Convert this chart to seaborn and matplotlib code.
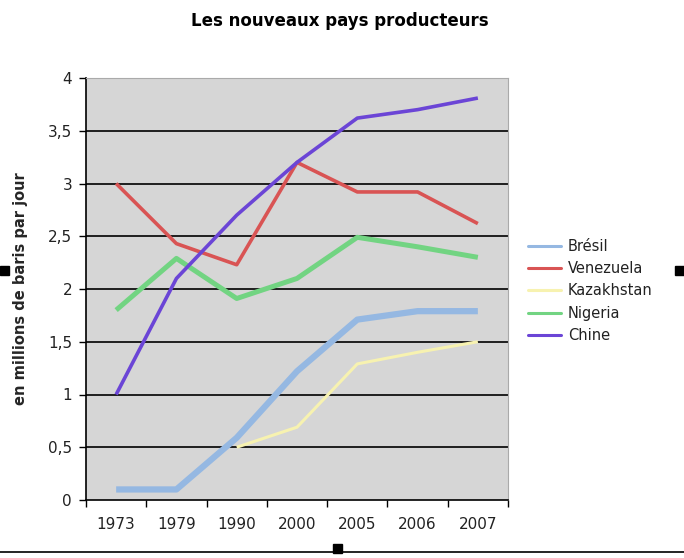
import matplotlib
matplotlib.use("Agg")
import matplotlib.pyplot as plt
import seaborn as sns
import numpy as np
import pandas as pd
from matplotlib.lines import Line2D
from matplotlib.patches import Rectangle

years = ["1973", "1979", "1990", "2000", "2005", "2006", "2007"]
bresil = [0.1, 0.1, 0.59, 1.22, 1.71, 1.79, 1.79]
venezuela = [3.0, 2.43, 2.23, 3.2, 2.92, 2.92, 2.62]
kazakhstan = [np.nan, np.nan, 0.5, 0.69, 1.29, 1.4, 1.5]
nigeria = [1.8, 2.29, 1.91, 2.1, 2.49, 2.4, 2.3]
chine = [1.0, 2.1, 2.7, 3.2, 3.62, 3.7, 3.81]

series_names = ["Brésil", "Venezuela", "Kazakhstan", "Nigeria", "Chine"]
series_values = [bresil, venezuela, kazakhstan, nigeria, chine]
colors = ["#95b8e2", "#d95454", "#f7f2b0", "#72d482", "#6b45d6"]
widths = [4.5, 2.6, 2.2, 3.6, 2.6]

yticks = [0, 0.5, 1, 1.5, 2, 2.5, 3, 3.5, 4]
ytick_labels = ["0", "0,5", "1", "1,5", "2", "2,5", "3", "3,5", "4"]

rows = []
for name, vals in zip(series_names, series_values):
    for i, (yr, v) in enumerate(zip(years, vals)):
        rows.append({"pos": i, "year": yr, "pays": name, "val": v})
df = pd.DataFrame(rows)

sns.set_theme(style="white")
plt.rcParams["font.family"] = ["DejaVu Sans"]

fig = plt.figure(figsize=(6.84, 5.58), dpi=100)
ax = fig.add_axes([86/684, 58/558, 422/684, 422/558])
ax.set_facecolor("#d6d6d6")

for name, c, w in zip(series_names, colors, widths):
    sub = df[df["pays"] == name].dropna()
    sns.lineplot(data=sub, x="pos", y="val", color=c, linewidth=w, ax=ax,
                 legend=False, solid_capstyle="butt", zorder=3)

ax.set_xlim(-0.5, 6.5)
ax.set_ylim(0, 4)
ax.set_yticks(yticks)
ax.set_yticklabels(ytick_labels, fontsize=11, color="#222222")
for y in yticks[1:]:
    ax.axhline(y, color="black", linewidth=1.2, zorder=1)

ax.set_xticks(np.arange(-0.5, 7.0, 1.0))
ax.set_xticklabels([])
ax.set_xticks(np.arange(len(years)), minor=True)
ax.set_xticklabels(years, minor=True, fontsize=11, color="#222222")
ax.tick_params(axis="x", which="major", direction="out", length=5, width=1, color="black", bottom=True)
ax.tick_params(axis="x", which="minor", length=0, pad=12)
ax.tick_params(axis="y", direction="out", length=5, width=1, color="black", left=True, pad=5)

ax.set_xlabel("")
ax.set_ylabel("en millions de baris par jour", fontsize=10.5, fontweight="bold", labelpad=14)

for s in ["left", "bottom"]:
    ax.spines[s].set_color("black")
    ax.spines[s].set_linewidth(1.2)
for s in ["top", "right"]:
    ax.spines[s].set_color("#aaaaaa")
    ax.spines[s].set_linewidth(0.8)

fig.text(340/684, 1 - 21/558, "Les nouveaux pays producteurs", ha="center", va="center",
         fontsize=12, fontweight="bold", color="black")

handles = [Line2D([0], [0], color=c, linewidth=2.2) for c in colors]
leg = fig.legend(handles, series_names, loc="upper left", bbox_to_anchor=(522/684, 1 - 233/558),
                 frameon=False, fontsize=10.5, handlelength=2.3, handletextpad=0.45,
                 labelspacing=0.5, borderaxespad=0)
for t in leg.get_texts():
    t.set_color("#222222")

# screenshot selection handles
for (x, y) in [(0, 266), (675, 266), (333, 544)]:
    fig.patches.append(Rectangle((x/684, 1 - (y + 9)/558), 9/684, 9/558,
                                 transform=fig.transFigure, color="black", zorder=10))
fig.lines.append(Line2D([0, 1], [1 - 552/558, 1 - 552/558], transform=fig.transFigure,
                        color="black", linewidth=1.2))

fig.savefig("out.png", dpi=100)
